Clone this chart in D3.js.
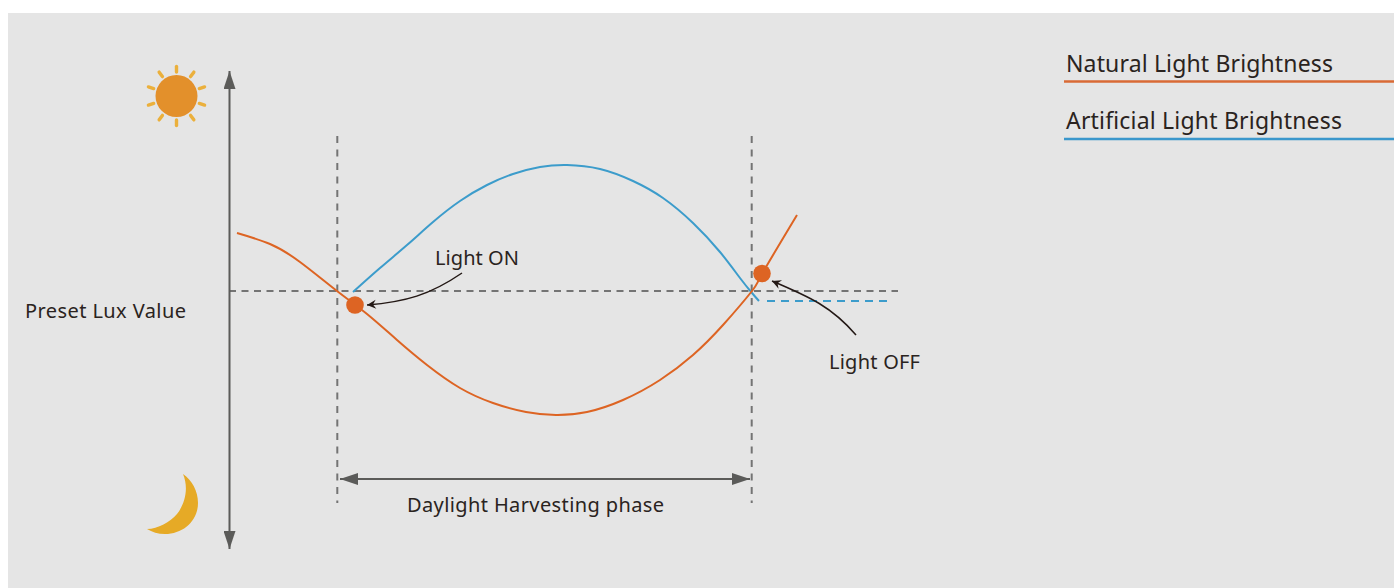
<!DOCTYPE html>
<html>
<head>
<meta charset="utf-8">
<script src="https://d3js.org/d3.v7.min.js"></script>
<style>
html, body { margin: 0; padding: 0; background: #fff; }
svg { display: block; }
text { font-family: "Noto Sans", sans-serif; fill: #2a2320; }
</style>
</head>
<body>
<div id="chart"></div>
<script>
'use strict';

// phase position, 0 = light on, 415 = light off
var naturalX = [-100, -67, -37, 0, 30, 60, 90, 123, 156, 189, 219, 250, 286, 323, 356, 386, 415, 425, 460];
// brightness relative to the preset lux value
var naturalY = [58, 47, 29, 0, -23, -49, -74, -97, -112, -121, -124, -121, -109, -89, -64, -34, 0, 17, 76];

var artificialX = [16, 43, 70, 96, 123, 150, 176, 203, 230, 263, 296, 326, 356, 383, 403, 415, 422];
var artificialY = [-1, 23, 46, 69, 90, 106, 117, 124, 126, 122, 110, 93, 68, 39, 13, -2, -10];

var offX = [430, 554];
var offY = [-10, -10];

var eventLabels = ['Light ON', 'Light OFF'];
var eventX = [18, 425];
var eventY = [-14, 17.5];

var legendLabels = ['Natural Light Brightness', 'Artificial Light Brightness'];
var axisLabel = 'Preset Lux Value';
var phaseLabel = 'Daylight Harvesting phase';

var width = 1394, height = 588;
var orange = '#dd6423', blue = '#3c9ccb', grey = '#5b5b59', dashGrey = '#747474', ink = '#231815';

var xScale = d3.scaleLinear().domain([0, 415]).range([337, 752]);
var yScale = d3.scaleLinear().domain([-124, 126]).range([415, 165]);

var svg = d3.select('#chart').append('svg')
	.attr('width', width)
	.attr('height', height);

// grey panel
svg.append('rect')
	.attr('x', 8)
	.attr('y', 13)
	.attr('width', width - 8)
	.attr('height', height - 13)
	.attr('fill', '#e5e5e5');

var defs = svg.append('defs');
defs.append('marker')
	.attr('id', 'head')
	.attr('viewBox', '0 0 18 12')
	.attr('refX', 18)
	.attr('refY', 6)
	.attr('markerWidth', 18)
	.attr('markerHeight', 12)
	.attr('markerUnits', 'userSpaceOnUse')
	.attr('orient', 'auto-start-reverse')
	.append('path')
	.attr('d', 'M0,0L18,6L0,12Z')
	.attr('fill', grey);
defs.append('marker')
	.attr('id', 'pointer')
	.attr('viewBox', '0 0 11 10')
	.attr('refX', 10)
	.attr('refY', 5)
	.attr('markerWidth', 11)
	.attr('markerHeight', 10)
	.attr('markerUnits', 'userSpaceOnUse')
	.attr('orient', 'auto')
	.append('path')
	.attr('d', 'M1,0.5L10,5L1,9.5L4,5Z')
	.attr('fill', ink);

// dashed guides
[0.3, 414.7].forEach(function(d) {
	svg.append('line')
		.attr('x1', xScale(d)).attr('x2', xScale(d))
		.attr('y1', 136).attr('y2', 503)
		.attr('stroke', dashGrey)
		.attr('stroke-width', 2)
		.attr('stroke-dasharray', '7 6.5');
});
svg.append('line')
	.attr('x1', 229).attr('x2', 898)
	.attr('y1', yScale(0)).attr('y2', yScale(0))
	.attr('stroke', dashGrey)
	.attr('stroke-width', 2)
	.attr('stroke-dasharray', '7 5.5');

// brightness axis and phase span
svg.append('line')
	.attr('x1', 229.5).attr('x2', 229.5)
	.attr('y1', 71).attr('y2', 549)
	.attr('stroke', grey)
	.attr('stroke-width', 2)
	.attr('marker-start', 'url(#head)')
	.attr('marker-end', 'url(#head)');
svg.append('line')
	.attr('x1', 340).attr('x2', 750)
	.attr('y1', 479).attr('y2', 479)
	.attr('stroke', grey)
	.attr('stroke-width', 2)
	.attr('marker-start', 'url(#head)')
	.attr('marker-end', 'url(#head)');

var line = d3.line()
	.x(function(d) { return xScale(d[0]); })
	.y(function(d) { return yScale(d[1]); })
	.curve(d3.curveNatural);

svg.append('path')
	.attr('d', line(d3.zip(artificialX, artificialY)))
	.attr('fill', 'none')
	.attr('stroke', blue)
	.attr('stroke-width', 2);
svg.append('path')
	.attr('d', line(d3.zip(naturalX, naturalY)))
	.attr('fill', 'none')
	.attr('stroke', orange)
	.attr('stroke-width', 2);
svg.append('line')
	.attr('x1', xScale(offX[0])).attr('x2', xScale(offX[1]))
	.attr('y1', yScale(offY[0])).attr('y2', yScale(offY[1]))
	.attr('stroke', blue)
	.attr('stroke-width', 2)
	.attr('stroke-dasharray', '8 6');

svg.selectAll('.event')
	.data(eventX)
	.enter()
	.append('circle')
	.attr('class', 'event')
	.attr('cx', function(d) { return xScale(d); })
	.attr('cy', function(d, i) { return yScale(eventY[i]); })
	.attr('r', 8.8)
	.attr('fill', orange);

// annotation pointers
svg.append('path')
	.attr('d', 'M462,273C430,295 405,302 367,305')
	.attr('fill', 'none')
	.attr('stroke', ink)
	.attr('stroke-width', 1.5)
	.attr('marker-end', 'url(#pointer)');
svg.append('path')
	.attr('d', 'M856,335C832,307 810,297 772,281')
	.attr('fill', 'none')
	.attr('stroke', ink)
	.attr('stroke-width', 1.5)
	.attr('marker-end', 'url(#pointer)');

// sun
var sun = svg.append('g').attr('transform', 'translate(176.5,96)');
sun.append('circle').attr('r', 21).attr('fill', '#e3902b');
d3.range(10).forEach(function(i) {
	sun.append('line')
		.attr('y1', -24).attr('y2', -29.5)
		.attr('transform', 'rotate(' + i * 36 + ')')
		.attr('stroke', '#ebb03c')
		.attr('stroke-width', 3.4)
		.attr('stroke-linecap', 'round');
});

// moon
svg.append('path')
	.attr('d', 'M183,474C192,480 198,491 198,503C198,521 183,534 165,534C158,534 152,532 147,529C158,529 170,522 177,514C185,504 189,488 183,474Z')
	.attr('fill', '#e6aa26');

// labels
var labelData = [
	{ text: axisLabel, x: 25, y: 318, w: 161 },
	{ text: eventLabels[0], x: 435, y: 265, w: 84 },
	{ text: eventLabels[1], x: 829, y: 369, w: 91 },
	{ text: phaseLabel, x: 407, y: 512, w: 257 }
];
svg.selectAll('.label')
	.data(labelData)
	.enter()
	.append('text')
	.attr('class', 'label')
	.attr('x', function(d) { return d.x; })
	.attr('y', function(d) { return d.y; })
	.attr('textLength', function(d) { return d.w; })
	.attr('lengthAdjust', 'spacing')
	.attr('font-size', 20)
	.text(function(d) { return d.text; });

// legend
var legendY = d3.scalePoint().domain(legendLabels).range([81.5, 139]);
var legendColor = d3.scaleOrdinal().domain(legendLabels).range(['#d96a35', '#3a97cc']);
var legendWidth = d3.scaleOrdinal().domain(legendLabels).range([267, 276]);
var legend = svg.selectAll('.legend')
	.data(legendLabels)
	.enter()
	.append('g')
	.attr('class', 'legend');
legend.append('line')
	.attr('x1', 1064).attr('x2', width)
	.attr('y1', function(d) { return legendY(d); })
	.attr('y2', function(d) { return legendY(d); })
	.attr('stroke', function(d) { return legendColor(d); })
	.attr('stroke-width', 2.5);
legend.append('text')
	.attr('x', 1066)
	.attr('y', function(d) { return legendY(d) - 10; })
	.attr('textLength', function(d) { return legendWidth(d); })
	.attr('lengthAdjust', 'spacing')
	.attr('font-size', 23)
	.text(function(d) { return d; });
</script>
</body>
</html>
